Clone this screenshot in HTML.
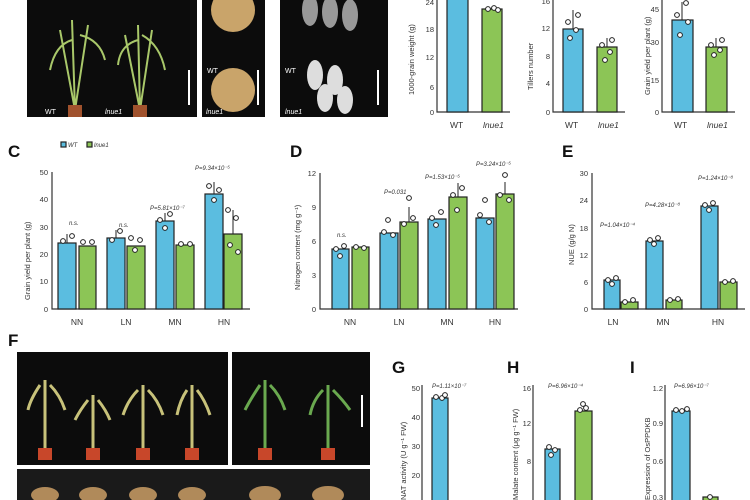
<!DOCTYPE html>
<html><head><meta charset="utf-8"><style>
body{margin:0;background:#fff}
svg{display:block;font-family:"Liberation Sans",sans-serif}
.b{fill:#5bbde0;stroke:#222;stroke-width:1.2}
.g{fill:#8cc556;stroke:#222;stroke-width:1.2}
.ax{stroke:#333;stroke-width:1.2;fill:none}
.t{font-size:8.5px;fill:#333}
.p{font-size:6px;fill:#333;font-style:italic}
.L{font-size:17px;font-weight:bold;fill:#111}
.yl{font-size:7.5px;fill:#333}
.e{stroke:#222;stroke-width:1;fill:none}
.d circle{fill:#fff;stroke:#222;stroke-width:1;r:2.4}
</style></head><body>
<svg width="750" height="500" viewBox="0 0 750 500">
<rect x="27" y="0" width="170" height="117" fill="#0c0c0c"/>
<g stroke="#a9c86a" stroke-width="2" fill="none">
<path d="M75 110 L72 20 M75 110 L60 30 M75 110 L88 25 M72 40 Q55 45 50 70 M80 35 Q100 40 105 60"/>
<path d="M140 110 L138 25 M140 110 L125 35 M140 110 L152 30 M138 40 Q120 45 118 65 M142 35 Q160 45 165 70"/>
</g>
<rect x="68" y="105" width="14" height="12" fill="#a0522d"/><rect x="133" y="105" width="14" height="12" fill="#a0522d"/>
<text x="45" y="114" font-size="7" fill="#fff">WT</text><text x="105" y="114" font-size="7" fill="#fff" font-style="italic">lnue1</text>
<rect x="188" y="70" width="2" height="35" fill="#fff"/>
<rect x="202" y="0" width="63" height="117" fill="#0c0c0c"/>
<circle cx="233" cy="10" r="22" fill="#c9a46a"/><circle cx="233" cy="90" r="22" fill="#c9a46a"/>
<text x="207" y="73" font-size="7" fill="#fff">WT</text><text x="206" y="114" font-size="7" fill="#fff" font-style="italic">lnue1</text>
<rect x="257" y="70" width="2" height="35" fill="#fff"/>
<rect x="280" y="0" width="108" height="117" fill="#0c0c0c"/>
<g fill="#999"><ellipse cx="310" cy="10" rx="8" ry="16"/><ellipse cx="330" cy="12" rx="8" ry="16"/><ellipse cx="350" cy="15" rx="8" ry="16"/></g>
<g fill="#ddd"><ellipse cx="315" cy="75" rx="8" ry="15"/><ellipse cx="335" cy="80" rx="8" ry="15"/><ellipse cx="325" cy="98" rx="8" ry="14"/><ellipse cx="345" cy="100" rx="8" ry="14"/></g>
<text x="285" y="73" font-size="7" fill="#fff">WT</text><text x="285" y="114" font-size="7" fill="#fff" font-style="italic">lnue1</text>
<rect x="377" y="70" width="2" height="35" fill="#fff"/>
<!-- top chart 1 -->
<path class="ax" d="M437 0V112H510"/>
<rect class="b" x="447" y="-2" width="21" height="114"/><rect class="g" x="482" y="9" width="20" height="103"/>
<g class="d"><circle cx="488" cy="9"/><circle cx="494" cy="8"/><circle cx="498" cy="10"/></g>
<g class="yl" text-anchor="end"><text x="434" y="115">0</text><text x="434" y="90">6</text><text x="434" y="60">12</text><text x="434" y="32">18</text><text x="434" y="5">24</text></g>
<text class="yl" transform="translate(414,95) rotate(-90)">1000-grain weight (g)</text>
<text class="t" x="450" y="128">WT</text><text class="t" x="483" y="128" font-style="italic">lnue1</text>
<!-- top chart 2 -->
<path class="ax" d="M553 0V112H625"/>
<rect class="b" x="563" y="29" width="20" height="83"/><rect class="g" x="597" y="47" width="20" height="65"/>
<path class="e" d="M573 29V10M607 47V38"/>
<g class="d"><circle cx="568" cy="22"/><circle cx="576" cy="30"/><circle cx="570" cy="38"/><circle cx="578" cy="15"/><circle cx="602" cy="45"/><circle cx="610" cy="52"/><circle cx="605" cy="60"/><circle cx="612" cy="40"/></g>
<g class="yl" text-anchor="end"><text x="550" y="115">0</text><text x="550" y="86">4</text><text x="550" y="59">8</text><text x="550" y="31">12</text><text x="550" y="4">16</text></g>
<text class="yl" transform="translate(533,90) rotate(-90)">Tillers number</text>
<text class="t" x="565" y="128">WT</text><text class="t" x="598" y="128" font-style="italic">lnue1</text>
<!-- top chart 3 -->
<path class="ax" d="M662 0V112H735"/>
<rect class="b" x="672" y="20" width="21" height="92"/><rect class="g" x="706" y="47" width="21" height="65"/>
<path class="e" d="M682 20V2M716 47V38"/>
<g class="d"><circle cx="677" cy="15"/><circle cx="688" cy="22"/><circle cx="680" cy="35"/><circle cx="686" cy="3"/><circle cx="711" cy="45"/><circle cx="720" cy="50"/><circle cx="714" cy="55"/><circle cx="722" cy="40"/></g>
<g class="yl" text-anchor="end"><text x="659" y="115">0</text><text x="659" y="83">15</text><text x="659" y="45">30</text><text x="659" y="12">45</text></g>
<text class="yl" transform="translate(650,95) rotate(-90)">Grain yield per plant (g)</text>
<text class="t" x="674" y="128">WT</text><text class="t" x="707" y="128" font-style="italic">lnue1</text>

<!-- C -->
<text class="L" x="8" y="157">C</text>
<path class="ax" d="M52 172V309H250"/>
<g class="yl" text-anchor="end"><text x="48" y="312">0</text><text x="48" y="284">10</text><text x="48" y="257">20</text><text x="48" y="230">30</text><text x="48" y="202">40</text><text x="48" y="175">50</text></g>
<text class="yl" transform="translate(30,300) rotate(-90)">Grain yield per plant (g)</text>
<rect class="b" x="58" y="243" width="18" height="66"/><rect class="g" x="79" y="246" width="17" height="63"/>
<rect class="b" x="107" y="238" width="18" height="71"/><rect class="g" x="127" y="246" width="18" height="63"/>
<rect class="b" x="156" y="221" width="18" height="88"/><rect class="g" x="176" y="245" width="18" height="64"/>
<rect class="b" x="205" y="194" width="18" height="115"/><rect class="g" x="224" y="234" width="18" height="75"/>
<path class="e" d="M67 243V234M116 238V230M165 221V213M214 194V182M233 234V210"/>
<g class="d"><circle cx="63" cy="241"/><circle cx="72" cy="236"/><circle cx="83" cy="242"/><circle cx="92" cy="242"/><circle cx="112" cy="240"/><circle cx="120" cy="231"/><circle cx="131" cy="238"/><circle cx="140" cy="240"/><circle cx="135" cy="250"/>
<circle cx="160" cy="220"/><circle cx="170" cy="214"/><circle cx="165" cy="228"/><circle cx="181" cy="244"/><circle cx="190" cy="244"/>
<circle cx="209" cy="186"/><circle cx="219" cy="190"/><circle cx="214" cy="200"/><circle cx="228" cy="210"/><circle cx="236" cy="218"/><circle cx="230" cy="245"/><circle cx="238" cy="252"/></g>
<rect class="b" x="61" y="142" width="5" height="5"/><text class="p" x="68" y="147" font-style="normal">WT</text>
<rect class="g" x="87" y="142" width="5" height="5"/><text class="p" x="94" y="147">lnue1</text>
<text class="p" x="69" y="225" font-style="normal">n.s.</text><text class="p" x="119" y="227" font-style="normal">n.s.</text>
<text class="p" x="150" y="210">P=5.81×10⁻⁷</text><text class="p" x="195" y="170">P=9.34×10⁻⁵</text>
<g class="t" text-anchor="middle"><text x="77" y="325">NN</text><text x="126" y="325">LN</text><text x="175" y="325">MN</text><text x="224" y="325">HN</text></g>
<!-- D -->
<text class="L" x="290" y="157">D</text>
<path class="ax" d="M320 173V309H518"/>
<g class="yl" text-anchor="end"><text x="316" y="312">0</text><text x="316" y="278">3</text><text x="316" y="244">6</text><text x="316" y="210">9</text><text x="316" y="176">12</text></g>
<text class="yl" transform="translate(300,290) rotate(-90)">Nitrogen content (mg g⁻¹)</text>
<rect class="b" x="332" y="249" width="17" height="60"/><rect class="g" x="352" y="247" width="17" height="62"/>
<rect class="b" x="380" y="233" width="18" height="76"/><rect class="g" x="400" y="222" width="18" height="87"/>
<rect class="b" x="428" y="219" width="18" height="90"/><rect class="g" x="449" y="197" width="18" height="112"/>
<rect class="b" x="476" y="218" width="18" height="91"/><rect class="g" x="496" y="194" width="18" height="115"/>
<path class="e" d="M409 222V207M458 197V183M505 194V182"/>
<g class="d"><circle cx="336" cy="249"/><circle cx="344" cy="246"/><circle cx="340" cy="256"/><circle cx="356" cy="247"/><circle cx="364" cy="248"/>
<circle cx="384" cy="232"/><circle cx="393" cy="235"/><circle cx="388" cy="220"/><circle cx="404" cy="224"/><circle cx="413" cy="218"/><circle cx="409" cy="198"/>
<circle cx="432" cy="218"/><circle cx="441" cy="212"/><circle cx="436" cy="225"/><circle cx="453" cy="195"/><circle cx="462" cy="188"/><circle cx="457" cy="210"/>
<circle cx="480" cy="215"/><circle cx="489" cy="222"/><circle cx="485" cy="200"/><circle cx="500" cy="195"/><circle cx="509" cy="200"/><circle cx="505" cy="175"/></g>
<text class="p" x="337" y="237" font-style="normal">n.s.</text><text class="p" x="384" y="194">P=0.031</text>
<text class="p" x="425" y="179">P=1.53×10⁻⁵</text><text class="p" x="476" y="166">P=3.24×10⁻⁵</text>
<g class="t" text-anchor="middle"><text x="350" y="325">NN</text><text x="399" y="325">LN</text><text x="447" y="325">MN</text><text x="495" y="325">HN</text></g>
<!-- E -->
<text class="L" x="562" y="157">E</text>
<path class="ax" d="M592 173V309H745"/>
<g class="yl" text-anchor="end"><text x="588" y="312">0</text><text x="588" y="285">6</text><text x="588" y="258">12</text><text x="588" y="231">18</text><text x="588" y="203">24</text><text x="588" y="176">30</text></g>
<text class="yl" transform="translate(574,265) rotate(-90)">NUE (g/g N)</text>
<rect class="b" x="604" y="280" width="16" height="29"/><rect class="g" x="621" y="302" width="17" height="7"/>
<rect class="b" x="646" y="241" width="17" height="68"/><rect class="g" x="666" y="300" width="16" height="9"/>
<rect class="b" x="701" y="206" width="17" height="103"/><rect class="g" x="720" y="282" width="17" height="27"/>
<g class="d"><circle cx="608" cy="280"/><circle cx="616" cy="278"/><circle cx="612" cy="284"/><circle cx="625" cy="302"/><circle cx="633" cy="300"/>
<circle cx="650" cy="240"/><circle cx="658" cy="238"/><circle cx="654" cy="244"/><circle cx="670" cy="300"/><circle cx="678" cy="299"/>
<circle cx="705" cy="205"/><circle cx="713" cy="203"/><circle cx="709" cy="210"/><circle cx="725" cy="282"/><circle cx="733" cy="281"/></g>
<text class="p" x="600" y="227">P=1.04×10⁻⁴</text><text class="p" x="645" y="207">P=4.28×10⁻⁸</text><text class="p" x="698" y="180">P=1.24×10⁻⁸</text>
<g class="t" text-anchor="middle"><text x="613" y="325">LN</text><text x="663" y="325">MN</text><text x="718" y="325">HN</text></g>

<!-- F -->
<text class="L" x="8" y="346">F</text>
<rect x="17" y="352" width="211" height="113" fill="#0c0c0c"/>
<rect x="232" y="352" width="138" height="113" fill="#0c0c0c"/>
<rect x="17" y="469" width="353" height="31" fill="#1a1a1a"/>
<g fill="#b08a5a"><ellipse cx="45" cy="495" rx="14" ry="8"/><ellipse cx="93" cy="495" rx="14" ry="8"/><ellipse cx="143" cy="495" rx="14" ry="8"/><ellipse cx="192" cy="495" rx="14" ry="8"/><ellipse cx="265" cy="495" rx="16" ry="9"/><ellipse cx="328" cy="495" rx="16" ry="9"/></g>
<g stroke="#c8c27a" stroke-width="3" fill="none">
<path d="M45 450V380M40 385Q30 400 28 410M50 385Q60 395 65 410"/>
<path d="M93 450V395M88 400Q80 410 75 420M98 400Q106 410 110 420"/>
<path d="M143 450V385M138 390Q128 400 123 415M148 390Q158 400 163 415"/>
<path d="M192 450V385M187 390Q180 400 177 415M197 390Q205 400 210 415"/></g>
<g stroke="#6aa94f" stroke-width="3" fill="none">
<path d="M265 450V380M260 385Q250 400 245 410M270 385Q280 395 285 410"/>
<path d="M328 450V385M323 390Q313 400 310 415M333 390Q343 400 350 410"/></g>
<g fill="#c8472a"><rect x="38" y="448" width="14" height="12"/><rect x="86" y="448" width="14" height="12"/><rect x="136" y="448" width="14" height="12"/><rect x="185" y="448" width="14" height="12"/><rect x="258" y="448" width="14" height="12"/><rect x="321" y="448" width="14" height="12"/></g>
<rect x="361" y="395" width="2" height="32" fill="#fff"/>
<!-- G -->
<text class="L" x="392" y="373">G</text>
<path class="ax" d="M422 385V500"/>
<g class="yl" text-anchor="end"><text x="420" y="391">50</text><text x="420" y="420">40</text><text x="420" y="449">30</text><text x="420" y="478">20</text></g>
<text class="yl" transform="translate(406,500) rotate(-90)">NAT activity (U g⁻¹ FW)</text>
<rect class="b" x="432" y="398" width="16" height="110"/>
<g class="d"><circle cx="436" cy="397"/><circle cx="442" cy="398"/><circle cx="445" cy="395"/></g>
<text class="p" x="432" y="388">P=1.11×10⁻⁷</text>
<!-- H -->
<text class="L" x="507" y="373">H</text>
<path class="ax" d="M533 385V500"/>
<g class="yl" text-anchor="end"><text x="531" y="391">16</text><text x="531" y="426">12</text><text x="531" y="464">8</text></g>
<text class="yl" transform="translate(518,500) rotate(-90)">Malate content (μg g⁻¹ FW)</text>
<rect class="b" x="545" y="449" width="15" height="59"/><rect class="g" x="575" y="411" width="17" height="97"/>
<g class="d"><circle cx="549" cy="447"/><circle cx="555" cy="450"/><circle cx="551" cy="455"/><circle cx="580" cy="410"/><circle cx="586" cy="408"/><circle cx="583" cy="404"/></g>
<text class="p" x="548" y="388">P=6.96×10⁻⁴</text>
<!-- I -->
<text class="L" x="630" y="373">I</text>
<path class="ax" d="M665 385V500"/>
<g class="yl" text-anchor="end"><text x="663" y="391">1.2</text><text x="663" y="426">0.9</text><text x="663" y="464">0.6</text><text x="663" y="500">0.3</text></g>
<text class="yl" transform="translate(650,500) rotate(-90)">Expression of OsPPDKB</text>
<rect class="b" x="672" y="411" width="18" height="97"/><rect class="g" x="703" y="497" width="15" height="11"/>
<g class="d"><circle cx="676" cy="410"/><circle cx="682" cy="411"/><circle cx="687" cy="409"/><circle cx="710" cy="497"/></g>
<text class="p" x="674" y="388">P=6.96×10⁻⁷</text>
</svg>
</body></html>
